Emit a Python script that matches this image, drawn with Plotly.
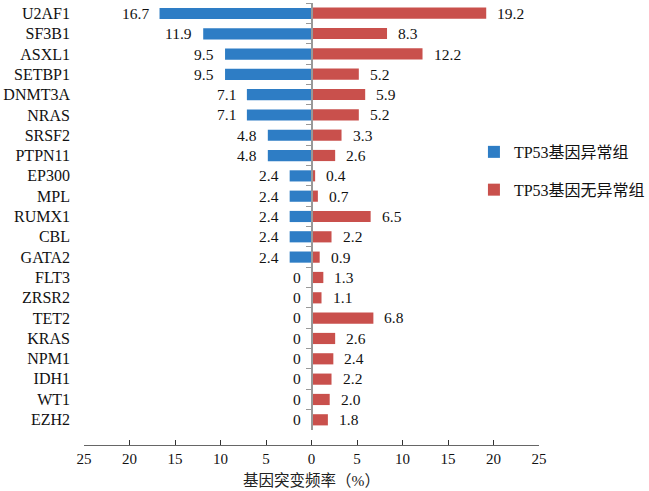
import plotly.graph_objects as go

genes = ["U2AF1", "SF3B1", "ASXL1", "SETBP1", "DNMT3A", "NRAS", "SRSF2", "PTPN11",
         "EP300", "MPL", "RUMX1", "CBL", "GATA2", "FLT3", "ZRSR2", "TET2", "KRAS",
         "NPM1", "IDH1", "WT1", "EZH2"]
tp53_abn = [16.7, 11.9, 9.5, 9.5, 7.1, 7.1, 4.8, 4.8, 2.4, 2.4, 2.4, 2.4, 2.4,
            0, 0, 0, 0, 0, 0, 0, 0]
tp53_abn_txt = ["16.7", "11.9", "9.5", "9.5", "7.1", "7.1", "4.8", "4.8", "2.4", "2.4",
                "2.4", "2.4", "2.4", "0", "0", "0", "0", "0", "0", "0", "0"]
tp53_norm = [19.2, 8.3, 12.2, 5.2, 5.9, 5.2, 3.3, 2.6, 0.4, 0.7, 6.5, 2.2, 0.9,
             1.3, 1.1, 6.8, 2.6, 2.4, 2.2, 2.0, 1.8]
tp53_norm_txt = ["19.2", "8.3", "12.2", "5.2", "5.9", "5.2", "3.3", "2.6", "0.4", "0.7",
                 "6.5", "2.2", "0.9", "1.3", "1.1", "6.8", "2.6", "2.4", "2.2", "2.0", "1.8"]
series_names = ["TP53基因异常组", "TP53基因无异常组"]
x_ticks = [-25, -20, -15, -10, -5, 0, 5, 10, 15, 20, 25]
x_ticktext = ["25", "20", "15", "10", "5", "0", "5", "10", "15", "20", "25"]
x_title = "基因突变频率（%）"

BLUE = "#2E7DC5"
RED = "#C9504C"
FONT = "Liberation Serif, Noto Sans CJK SC, serif"

fig = go.Figure()
fig.add_trace(go.Bar(
    y=genes, x=[-v for v in tp53_abn], orientation="h", name=series_names[0],
    marker=dict(color=BLUE, line=dict(width=0)), width=0.55, yaxis="y",
    legendgroup="a", hoverinfo="skip"))
fig.add_trace(go.Bar(
    y=genes, x=tp53_norm, orientation="h", name=series_names[1],
    marker=dict(color=RED, line=dict(width=0)), width=0.55, yaxis="y2",
    legendgroup="b", hoverinfo="skip"))

annotations = []
for g, v, t in zip(genes, tp53_abn, tp53_abn_txt):
    annotations.append(dict(x=-v, y=g, yref="y", xref="x", text=t, showarrow=False,
                            xanchor="right", xshift=-9,
                            font=dict(family=FONT, size=15.5, color="#111")))
for g, v, t in zip(genes, tp53_norm, tp53_norm_txt):
    annotations.append(dict(x=v, y=g, yref="y", xref="x", text=t, showarrow=False,
                            xanchor="left", xshift=9,
                            font=dict(family=FONT, size=15.5, color="#111")))
annotations.append(dict(x=0.5, y=0, xref="paper", yref="paper", text=x_title,
                        showarrow=False, xanchor="center", yanchor="middle",
                        yshift=-35, font=dict(family=FONT, size=15.5, color="#222")))

fig.update_layout(
    width=649, height=491,
    margin=dict(l=84, r=110, t=3, b=46, autoexpand=False),
    paper_bgcolor="white", plot_bgcolor="white",
    font=dict(family=FONT, size=15, color="#111"),
    barmode="overlay",
    annotations=annotations,
    xaxis=dict(range=[-25, 25], tickvals=x_ticks, ticktext=x_ticktext,
               anchor="free", position=0, showgrid=False, zeroline=False,
               showline=True, linecolor="#666", linewidth=1, automargin=False,
               ticks="inside", ticklen=5, tickcolor="#333",
               tickfont=dict(family=FONT, size=15)),
    yaxis=dict(domain=[0.034, 1], type="category", categoryorder="array",
               categoryarray=genes, autorange="reversed", showgrid=False,
               zeroline=False, showline=False, ticks="", ticklabelstandoff=13,
               tickfont=dict(family=FONT, size=16), automargin=False),
    yaxis2=dict(overlaying="y", type="category", categoryorder="array",
                categoryarray=genes, autorange="reversed", anchor="free",
                position=0.5, side="left", showgrid=False, zeroline=False,
                showline=True, linecolor="#999", linewidth=1.5, automargin=False,
                ticks="outside", ticklen=5, tickcolor="#999", tickson="boundaries",
                showticklabels=False),
    legend=dict(x=0.857, y=0.62, xanchor="left", yanchor="middle",
                bgcolor="rgba(0,0,0,0)", font=dict(family=FONT, size=16),
                tracegroupgap=14, itemwidth=30),
)

fig.write_html("out.html", config={"displayModeBar": False},
               post_script="document.body.style.margin='0';document.body.style.padding='0';")
